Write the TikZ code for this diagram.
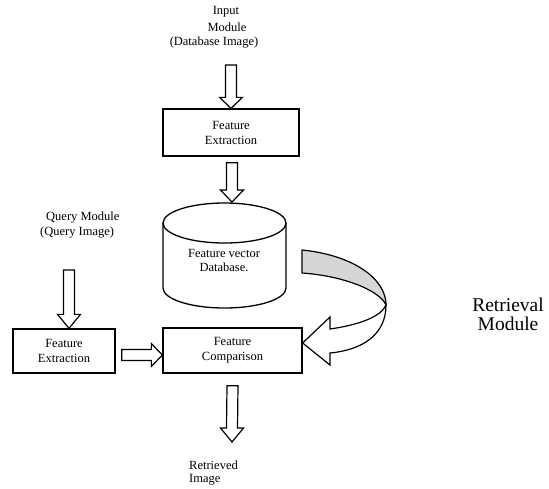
\documentclass[tikz,border=0pt]{standalone}
\usepackage{fontspec}
\setmainfont{Liberation Serif}
\usetikzlibrary{calc}
\tikzset{
  lbl/.style={inner sep=0pt, font=\fontsize{12.5}{14}\selectfont, align=center},
  bigl/.style={inner sep=0pt, font=\fontsize{19.5}{19}\selectfont, align=center},
  boxn/.style={draw, line width=1.3pt, inner sep=0pt, align=center, font=\fontsize{12.5}{15}\selectfont},
  blk/.style={draw, line width=1.2pt, fill=white, line join=miter},
}
\newcommand{\darrow}[3]{% start, tip, head length
  \draw[blk] ($(#1)+(-5.5,0)$) -- ($(#2)+(-5.5,-#3)$) -- ($(#2)+(-11.5,-#3)$) -- (#2)
    -- ($(#2)+(11.5,-#3)$) -- ($(#2)+(5.5,-#3)$) -- ($(#1)+(5.5,0)$) -- cycle;}
\begin{document}
\begin{tikzpicture}[x=1pt,y=-1pt]
\useasboundingbox (0,0) rectangle (549,488);
% texts
\node[lbl] (in1) at (226,12) {Input};
\node[lbl] (in2) at (227,27) {Module};
\node[lbl] (in3) at (214,43) {(Database Image)};
\node[lbl,anchor=west] (q1) at (46,218) {Query Module};
\node[lbl,anchor=west] (q2) at (40,233) {(Query Image)};
\node[lbl,anchor=west] (r1) at (189,465) {Retrieved};
\node[lbl,anchor=west] (r2) at (189,480) {Image};
\node[bigl] (m1) at (508,305) {Retrieval};
\node[bigl] (m2) at (508,324) {Module};
% boxes
\node[boxn, minimum width=136, minimum height=47] (fe1) at (231,132.5) {Feature\\Extraction};
\node[boxn, minimum width=102, minimum height=44] (fe2) at (64,351) {Feature\\Extraction};
\node[boxn, minimum width=139, minimum height=45] (fc) at (232.5,350.5) {Feature\\Comparison};
% cylinder
\draw[line width=1.3pt] (163,223) -- (163,288)
  .. controls (163,299.05) and (190.5,308) .. (224.5,308)
  .. controls (258.5,308) and (286,299.05) .. (286,288) -- (286,223);
\draw[line width=1.3pt] (163,223)
  .. controls (163,211.95) and (190.5,203) .. (224.5,203)
  .. controls (258.5,203) and (286,211.95) .. (286,223)
  .. controls (286,234.05) and (258.5,243) .. (224.5,243)
  .. controls (190.5,243) and (163,234.05) .. (163,223) -- cycle;
\node[lbl, align=center] (db) at (224,260) {Feature vector\\Database.};
% coordinates for arrows
\coordinate (a1s) at (231,65);
\coordinate (a2s) at ($(fe1.south)+(1,6)$);
\coordinate (dbtop) at (232,202);
\coordinate (qs) at (69,270);
\coordinate (qt) at ($(fe2.north)+(5,0)$);
\coordinate (bs) at ($(fc.south)+(0,12)$);
\coordinate (bt) at (232,442);
% block arrows
\darrow{a1s}{fe1.north}{11}
\darrow{a2s}{dbtop}{12}
\darrow{qs}{qt}{14}
\darrow{bs}{bt}{14}
% horizontal arrow
\coordinate (hs) at ($(fe2.east)+(6,4)$);
\coordinate (ht) at ($(fc.west)+(0,4.5)$);
\draw[blk] ($(hs)+(0,-5.5)$) -- ($(ht)+(-11,-5.5)$) -- ($(ht)+(-11,-11.5)$) -- (ht)
  -- ($(ht)+(-11,11.5)$) -- ($(ht)+(-11,5.5)$) -- ($(hs)+(0,5.5)$) -- cycle;
% curved arrow
\coordinate (ct) at ($(fc.east)+(0,-7.5)$);
\draw[line width=1.2pt, fill=black!16, line join=round]
  (302,250) .. controls (352,255) and (386,278) .. (386,305)
  .. controls (380,291) and (345,276) .. (302,273) -- cycle;
\draw[line width=1.2pt, fill=white, line join=miter]
  (386,305) .. controls (386,335) and (362,350) .. (330,353)
  -- (330,365) -- (ct) -- (330,317) -- (330,329)
  .. controls (358,325) and (381,317) .. (386,305) -- cycle;
\end{tikzpicture}
\end{document}
